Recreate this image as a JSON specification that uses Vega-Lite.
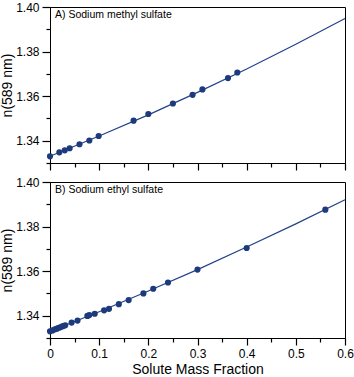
{
  "$schema": "https://vega.github.io/schema/vega-lite/v6.json",
  "padding": {"left": 0, "top": 0, "right": 5, "bottom": 0},
  "config": {
    "font": "Liberation Sans",
    "view": {"stroke": "#000", "strokeWidth": 1},
    "axis": {
      "grid": false,
      "ticks": true,
      "domainColor": "#000",
      "tickColor": "#000",
      "tickOpacity": 1,
      "tickWidth": 1.2,
      "labelColor": "#000",
      "titleColor": "#000",
      "labelFontSize": 12,
      "titleFontSize": 14,
      "titleFontWeight": "normal",
      "labelOverlap": false,
      "labelFlush": false
    }
  },
  "datasets": {
    "methyl": [
      {"w": 0.0, "n": 1.333},
      {"w": 0.019, "n": 1.3348},
      {"w": 0.03, "n": 1.3357},
      {"w": 0.04, "n": 1.3366},
      {"w": 0.06, "n": 1.3384},
      {"w": 0.08, "n": 1.3401},
      {"w": 0.099, "n": 1.3421},
      {"w": 0.17, "n": 1.349},
      {"w": 0.2, "n": 1.352},
      {"w": 0.25, "n": 1.3567},
      {"w": 0.29, "n": 1.3606},
      {"w": 0.31, "n": 1.363},
      {"w": 0.362, "n": 1.3681},
      {"w": 0.381, "n": 1.3706}
    ],
    "methylFit": [
      {"w": 0.0, "n": 1.333},
      {"w": 0.1, "n": 1.3421},
      {"w": 0.2, "n": 1.3516},
      {"w": 0.3, "n": 1.3617},
      {"w": 0.4, "n": 1.3722},
      {"w": 0.5, "n": 1.3833},
      {"w": 0.6, "n": 1.3948}
    ],
    "ethyl": [
      {"w": 0.0, "n": 1.333},
      {"w": 0.005, "n": 1.3334},
      {"w": 0.01, "n": 1.3339},
      {"w": 0.014, "n": 1.3342},
      {"w": 0.018, "n": 1.3346},
      {"w": 0.022, "n": 1.3349},
      {"w": 0.026, "n": 1.3353},
      {"w": 0.031, "n": 1.3357},
      {"w": 0.044, "n": 1.3369},
      {"w": 0.056, "n": 1.3378},
      {"w": 0.076, "n": 1.3399},
      {"w": 0.08, "n": 1.3403},
      {"w": 0.091, "n": 1.3409},
      {"w": 0.11, "n": 1.3424},
      {"w": 0.12, "n": 1.3431},
      {"w": 0.14, "n": 1.3452},
      {"w": 0.16, "n": 1.347},
      {"w": 0.19, "n": 1.35},
      {"w": 0.21, "n": 1.3521},
      {"w": 0.24, "n": 1.3549},
      {"w": 0.3, "n": 1.3607},
      {"w": 0.4, "n": 1.3704},
      {"w": 0.56, "n": 1.3876}
    ],
    "ethylFit": [
      {"w": 0.0, "n": 1.333},
      {"w": 0.1, "n": 1.3418},
      {"w": 0.2, "n": 1.3511},
      {"w": 0.3, "n": 1.3607},
      {"w": 0.4, "n": 1.3708},
      {"w": 0.5, "n": 1.3812},
      {"w": 0.6, "n": 1.392}
    ]
  },
  "spacing": 3,
  "vconcat": [
    {
      "width": 295,
      "height": 156,
      "title": {"text": "A) Sodium methyl sulfate", "anchor": "start", "frame": "group", "orient": "top", "offset": -19, "dx": 5, "fontSize": 10.5, "fontWeight": "normal", "color": "#000"},
      "resolve": {"axis": {"x": "independent", "y": "independent"}},
      "layer": [
        {
          "data": {"name": "methylFit"},
          "mark": {"type": "line", "color": "#23408a", "strokeWidth": 1.2},
          "encoding": {
            "x": {"field": "w", "type": "quantitative", "scale": {"domain": [0, 0.6], "nice": false},
              "axis": {"orient": "bottom", "title": null, "labels": false, "domain": false, "ticks": true, "tickSize": 4, "values": [0.05, 0.15, 0.25, 0.35, 0.45, 0.55]}},
            "y": {"field": "n", "type": "quantitative", "scale": {"domain": [1.33, 1.4], "nice": false, "zero": false},
              "axis": {"orient": "left", "title": null, "labels": false, "domain": false, "ticks": true, "tickSize": 4, "values": [1.33, 1.35, 1.37, 1.39]}}
          }
        },
        {
          "data": {"name": "methyl"},
          "mark": {"type": "circle", "color": "#1d3a7c", "size": 38, "opacity": 1},
          "encoding": {
            "x": {"field": "w", "type": "quantitative", "scale": {"domain": [0, 0.6], "nice": false},
              "axis": {"orient": "bottom", "title": null, "labels": false, "ticks": true, "tickSize": 7, "values": [0, 0.1, 0.2, 0.3, 0.4, 0.5, 0.6]}},
            "y": {"field": "n", "type": "quantitative", "scale": {"domain": [1.33, 1.4], "nice": false, "zero": false},
              "axis": {"orient": "left", "title": "n(589 nm)", "titlePadding": 1, "labelPadding": 3, "ticks": true, "tickSize": 8, "values": [1.34, 1.36, 1.38, 1.4], "format": ".2f"}}
          }
        }
      ]
    },
    {
      "width": 295,
      "height": 156,
      "title": {"text": "B) Sodium ethyl sulfate", "anchor": "start", "frame": "group", "orient": "top", "offset": -19, "dx": 5, "fontSize": 10.5, "fontWeight": "normal", "color": "#000"},
      "resolve": {"axis": {"x": "independent", "y": "independent"}},
      "layer": [
        {
          "data": {"name": "ethylFit"},
          "mark": {"type": "line", "color": "#23408a", "strokeWidth": 1.2},
          "encoding": {
            "x": {"field": "w", "type": "quantitative", "scale": {"domain": [0, 0.6], "nice": false},
              "axis": {"orient": "bottom", "title": null, "labels": false, "domain": false, "ticks": true, "tickSize": 4, "values": [0.05, 0.15, 0.25, 0.35, 0.45, 0.55]}},
            "y": {"field": "n", "type": "quantitative", "scale": {"domain": [1.33, 1.4], "nice": false, "zero": false},
              "axis": {"orient": "left", "title": null, "labels": false, "domain": false, "ticks": true, "tickSize": 4, "values": [1.33, 1.35, 1.37, 1.39]}}
          }
        },
        {
          "data": {"name": "ethyl"},
          "mark": {"type": "circle", "color": "#1d3a7c", "size": 38, "opacity": 1},
          "encoding": {
            "x": {"field": "w", "type": "quantitative", "scale": {"domain": [0, 0.6], "nice": false},
              "axis": {"orient": "bottom", "title": "Solute Mass Fraction", "titlePadding": 3, "labelPadding": 3, "ticks": true, "tickSize": 7, "values": [0, 0.1, 0.2, 0.3, 0.4, 0.5, 0.6], "format": ".1~f"}},
            "y": {"field": "n", "type": "quantitative", "scale": {"domain": [1.33, 1.4], "nice": false, "zero": false},
              "axis": {"orient": "left", "title": "n(589 nm)", "titlePadding": 1, "labelPadding": 3, "ticks": true, "tickSize": 8, "values": [1.34, 1.36, 1.38, 1.4], "format": ".2f"}}
          }
        }
      ]
    }
  ]
}
